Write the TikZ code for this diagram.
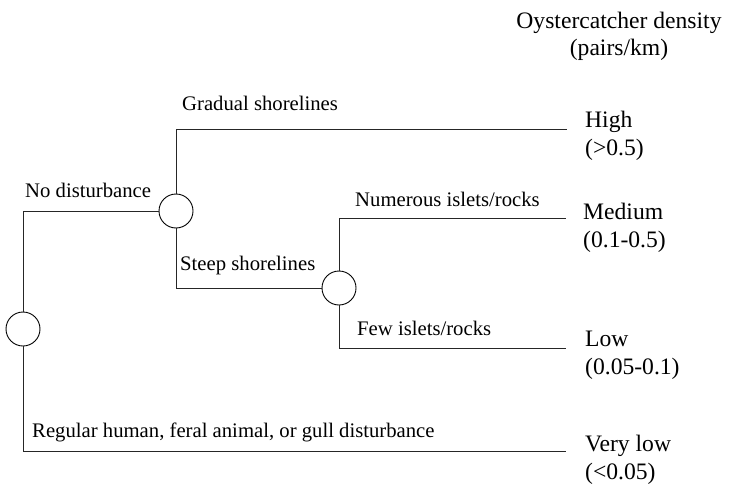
\documentclass[tikz,border=0pt]{standalone}
\usepackage{fontspec}
\setmainfont{Liberation Serif}
\usetikzlibrary{positioning}

\begin{document}
\begin{tikzpicture}[x=1pt,y=-1pt,
    chance/.style={circle,draw,line width=0.9pt,minimum size=34pt,inner sep=0pt},
    branch/.style={line width=0.8pt,draw=black!85},
    lbl/.style={anchor=base west,inner sep=0pt,font=\fontsize{20.7}{24}\selectfont},
    outcome/.style={anchor=base west,inner sep=0pt,align=left,font=\fontsize{23.6}{27.5}\selectfont}]
  \useasboundingbox (0,0) rectangle (730,487);

  % chance nodes
  \node[chance] (root) at (23,329) {};
  \node[chance] (shore) at (176,211) {};
  \node[chance] (islet) at (339,288) {};

  % free ends of the branches
  \coordinate (e1) at (567,129);
  \coordinate (e2) at (566,218);
  \coordinate (e3) at (566,348);
  \coordinate (e4) at (566,451);

  \draw[branch] (root.north) |- (shore.west);
  \draw[branch] (root.south) |- (e4);
  \draw[branch] (shore.north) |- (e1);
  \draw[branch] (shore.south) |- (islet.west);
  \draw[branch] (islet.north) |- (e2);
  \draw[branch] (islet.south) |- (e3);

  % branch labels
  \node[lbl] (nodist) at (25,197) {No disturbance};
  \node[lbl] (grad) at (182,110) {Gradual shorelines};
  \node[lbl] (steep) at (180,270) {Steep shorelines};
  \node[lbl] (many) at (355,206) {Numerous islets/rocks};
  \node[lbl] (few) at (357,335) {Few islets/rocks};
  \node[lbl] (dist) at (32,437) {Regular human, feral animal, or gull disturbance};

  % densities (base = last line)
  \node[align=center,inner sep=0pt,anchor=base,font=\fontsize{23.6}{27}\selectfont] (title) at (619,56) {Oystercatcher density\\(pairs/km)};
  \node[outcome] (high) at (585,155) {High\\(>0.5)};
  \node[outcome] (med) at (583,247) {Medium\\(0.1-0.5)};
  \node[outcome] (low) at (585,374) {Low\\(0.05-0.1)};
  \node[outcome] (vlow) at (585,479) {Very low\\(<0.05)};
\end{tikzpicture}
\end{document}
